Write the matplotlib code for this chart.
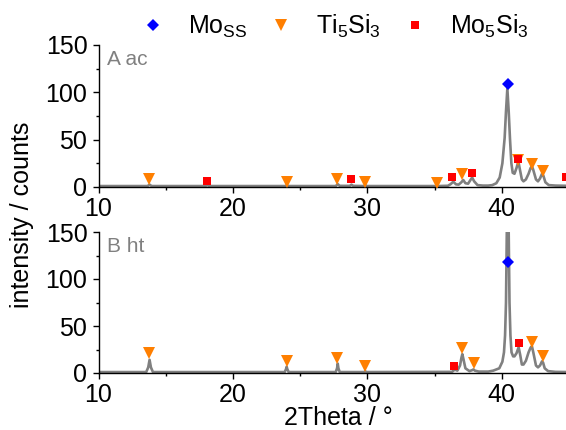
import matplotlib
matplotlib.use("Agg")
import matplotlib.pyplot as plt
from matplotlib.lines import Line2D
from matplotlib.ticker import MultipleLocator

plt.rcParams['font.family'] = ['Liberation Sans', 'DejaVu Sans']
plt.rcParams['mathtext.default'] = 'regular'

# ---------------- data ----------------
# Panel A (as-cast) diffractogram
a_x = [10.0, 13.65, 13.8, 13.95, 17.95, 18.1, 18.25, 23.9, 24.0, 24.1,
       27.65, 27.8, 27.95, 28.7, 28.82, 28.95, 29.75, 29.85, 29.95,
       35.1, 35.2, 35.3, 36.0, 36.2, 36.4, 36.6, 36.8, 37.0, 37.14, 37.3,
       37.5, 37.68, 37.8, 37.95, 38.2, 38.6, 39.0, 39.3, 39.6, 39.85,
       40.05, 40.22, 40.32, 40.42, 40.52, 40.62, 40.72, 40.82, 40.95,
       41.1, 41.24, 41.36, 41.5, 41.62, 41.8, 42.0, 42.15, 42.25, 42.35,
       42.55, 42.7, 42.85, 43.0, 43.1, 43.25, 43.5, 44.0, 45.0]
a_y = [1.0, 1.0, 2.5, 1.0, 1.0, 2.0, 1.0, 1.0, 1.8, 1.0,
       1.0, 3.0, 1.2, 1.2, 2.5, 1.2, 1.0, 2.0, 1.0,
       1.0, 1.8, 1.0, 1.3, 3.0, 5.6, 2.8, 2.5, 5.0, 7.4, 4.0,
       3.5, 7.5, 10.0, 6.0, 2.0, 1.5, 1.5, 2.0, 4.0, 10.0,
       25.0, 52.0, 80.0, 104.0, 80.0, 50.0, 25.0, 15.0, 14.0,
       20.0, 27.0, 18.0, 8.0, 6.0, 8.0, 14.0, 20.0, 22.0, 18.0,
       8.0, 6.0, 9.0, 14.0, 12.0, 5.0, 2.0, 1.5, 1.2]

# Panel B (heat-treated) diffractogram
b_x = [10.0, 13.55, 13.7, 13.8, 13.9, 14.05, 23.85, 23.95, 24.0, 24.05, 24.15,
       27.65, 27.75, 27.8, 27.85, 27.95, 29.75, 29.85, 29.95,
       36.3, 36.45, 36.55, 36.7, 36.9, 37.0, 37.07, 37.15, 37.3, 37.6,
       37.8, 37.9, 38.0, 38.3, 39.0, 39.37, 39.82, 40.05, 40.17, 40.25,
       40.32, 40.38, 40.45, 40.52, 40.58, 40.65, 40.73, 40.85, 40.95,
       41.1, 41.26, 41.38, 41.5, 41.62, 41.8, 42.0, 42.15, 42.25, 42.35,
       42.55, 42.7, 42.85, 43.0, 43.08, 43.2, 43.45, 44.0, 45.0]
b_y = [1.0, 1.0, 6.0, 14.0, 6.0, 1.0, 1.0, 4.0, 6.7, 4.0, 1.0,
       1.0, 5.0, 10.0, 5.0, 1.0, 1.0, 1.8, 1.0,
       1.2, 3.0, 3.5, 2.5, 8.0, 16.0, 20.0, 15.0, 5.0, 2.0,
       3.0, 3.8, 2.5, 1.5, 1.5, 2.5, 5.0, 12.0, 22.0, 40.0,
       75.0, 150.0, 230.0, 150.0, 75.0, 40.0, 22.0, 17.7, 17.7,
       21.0, 27.3, 19.0, 9.0, 9.0, 13.0, 22.0, 27.0, 28.4, 22.0,
       8.0, 6.0, 8.0, 12.4, 11.0, 5.0, 2.0, 1.2, 1.0]

# Phase markers: Panel A
a_moss_x = [40.45]
a_moss_y = [109]
a_ti_x = [13.78, 24.0, 27.77, 29.8, 35.16, 37.07, 41.24, 42.25, 43.05]
a_ti_y = [8.1, 5.3, 8.1, 5.3, 4.5, 13.4, 29.0, 24.6, 16.9]
a_mo5_x = [18.1, 28.8, 36.28, 37.77, 41.24, 44.8]
a_mo5_y = [6.0, 8.1, 10.9, 15.1, 29.9, 10.9]

# Phase markers: Panel B
b_moss_x = [40.47]
b_moss_y = [118.4]
b_ti_x = [13.78, 24.0, 27.77, 29.8, 37.07, 37.94, 42.25, 43.05]
b_ti_y = [21.0, 12.4, 16.3, 7.8, 26.6, 10.3, 32.7, 18.4]
b_mo5_x = [36.47, 41.26]
b_mo5_y = [7.4, 31.6]

panel_labels = ["A ac", "B ht"]
legend_labels = [r"Mo$_{SS}$", r"Ti$_5$Si$_3$", r"Mo$_5$Si$_3$"]
xlabel = "2Theta / °"
ylabel = "intensity / counts"

# ---------------- styles ----------------
LINE_C = "#808080"
BLUE = "#0000FF"
ORANGE = "#FF7F00"
RED = "#FF0000"
FS = 18

MS_D, MS_V, MS_S = 6.6, 8.0, 6.4

W, H = 566, 430
fig = plt.figure(figsize=(W / 100, H / 100), dpi=100)

left = 98.5 / W
width = (568.9 - 98.5) / W
ax_top = fig.add_axes([left, 1 - 187 / H, width, (187 - 45) / H])
ax_bot = fig.add_axes([left, 1 - 373 / H, width, (373 - 232) / H])

panels = [
    (ax_top, a_x, a_y, a_moss_x, a_moss_y, a_ti_x, a_ti_y, a_mo5_x, a_mo5_y, panel_labels[0]),
    (ax_bot, b_x, b_y, b_moss_x, b_moss_y, b_ti_x, b_ti_y, b_mo5_x, b_mo5_y, panel_labels[1]),
]

for ax, x, y, mx, my, tx, ty, rx, ry, lab in panels:
    ax.plot(x, y, color=LINE_C, lw=1.9, solid_joinstyle='round', zorder=2)
    ax.plot(tx, ty, linestyle='none', marker='v', ms=MS_V, color=ORANGE, mew=0, zorder=3)
    ax.plot(rx, ry, linestyle='none', marker='s', ms=MS_S, color=RED, mew=0, zorder=4)
    ax.plot(mx, my, linestyle='none', marker='D', ms=MS_D, color=BLUE, mew=0, zorder=5)
    ax.set_xlim(10, 45)
    ax.set_ylim(0, 150)
    ax.xaxis.set_major_locator(MultipleLocator(10))
    ax.xaxis.set_minor_locator(MultipleLocator(5))
    ax.yaxis.set_major_locator(MultipleLocator(50))
    ax.yaxis.set_minor_locator(MultipleLocator(25))
    ax.spines['top'].set_visible(False)
    ax.spines['right'].set_visible(False)
    for s in ('left', 'bottom'):
        ax.spines[s].set_linewidth(1.0)
    ax.tick_params(which='major', direction='out', length=4, width=1.0,
                   labelsize=FS)
    ax.tick_params(axis='y', which='major', pad=4.0)
    ax.tick_params(axis='x', which='major', pad=3.0)
    ax.tick_params(which='minor', direction='out', length=2.2, width=1.0)
    ax.text(0.018, 0.90, lab, transform=ax.transAxes, fontsize=15,
            color=LINE_C, ha='left', va='center')

fig.text(22 / W, 1 - 215 / H, ylabel, rotation=90, fontsize=FS,
         ha='center', va='center')
fig.text(338 / W, 1 - 418 / H, xlabel, fontsize=FS, ha='center', va='center')

handles = [
    Line2D([], [], linestyle='none', marker='D', ms=MS_D, color=BLUE, mew=0),
    Line2D([], [], linestyle='none', marker='v', ms=MS_V, color=ORANGE, mew=0),
    Line2D([], [], linestyle='none', marker='s', ms=MS_S, color=RED, mew=0),
]
fig.legend(handles, legend_labels, loc='center left',
           bbox_to_anchor=(140.5 / W, 1 - 26 / H), ncol=3, frameon=False,
           fontsize=FS, handlelength=1.0, handletextpad=0.9,
           columnspacing=0.85, borderpad=0, borderaxespad=0, numpoints=1)

fig.savefig("out.png", dpi=100)
